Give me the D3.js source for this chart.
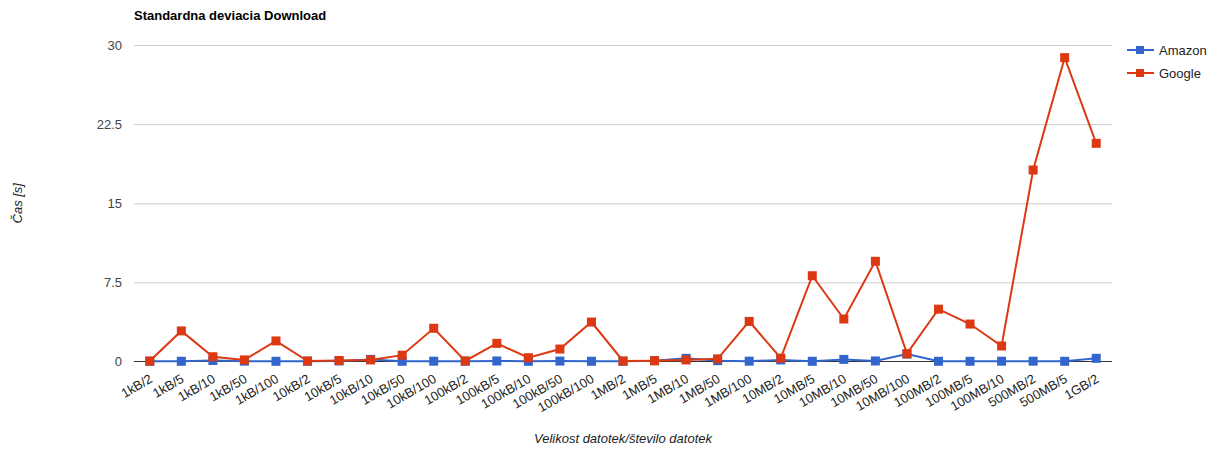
<!DOCTYPE html>
<html>
<head>
<meta charset="utf-8">
<script src="https://cdn.jsdelivr.net/npm/d3@7"></script>
<style>
  body { margin: 0; background: #fff; }
  svg { display: block; font-family: "Liberation Sans", Arial, sans-serif; }
</style>
</head>
<body>
<svg id="chart" width="1222" height="451"></svg>
<script>
// File size / number of files
const categories = [
  "1kB/2", "1kB/5", "1kB/10", "1kB/50", "1kB/100",
  "10kB/2", "10kB/5", "10kB/10", "10kB/50", "10kB/100",
  "100kB/2", "100kB/5", "100kB/10", "100kB/50", "100kB/100",
  "1MB/2", "1MB/5", "1MB/10", "1MB/50", "1MB/100",
  "10MB/2", "10MB/5", "10MB/10", "10MB/50", "10MB/100",
  "100MB/2", "100MB/5", "100MB/10", "500MB/2", "500MB/5", "1GB/2"
];

// Standard deviation of download time [s]
const amazon = [
  0.02, 0.02, 0.1, 0.03, 0.02,
  0.03, 0.05, 0.2, 0.02, 0.03,
  0.03, 0.05, 0.02, 0.04, 0.02,
  0.02, 0.08, 0.3, 0.08, 0.03,
  0.15, 0.02, 0.2, 0.05, 0.7,
  0.02, 0.02, 0.03, 0.03, 0.02, 0.3
];
const google = [
  0.05, 2.9, 0.45, 0.15, 1.95,
  0.05, 0.1, 0.15, 0.6, 3.15,
  0.05, 1.72, 0.36, 1.18, 3.74,
  0.05, 0.07, 0.15, 0.25, 3.8,
  0.32, 8.13, 4.03, 9.5, 0.74,
  4.96, 3.55, 1.47, 18.15, 28.8, 20.68
];

const yTicks = [0, 7.5, 15, 22.5, 30];

const series = [
  { name: "Amazon", values: amazon, color: "#3366cc" },
  { name: "Google", values: google, color: "#dc3912" }
];

const svg = d3.select("#chart");
const plot = { left: 134, right: 1112, top: 45, bottom: 361.5 };

const x = d3.scalePoint()
  .domain(categories)
  .range([plot.left, plot.right])
  .padding(0.5);

const y = d3.scaleLinear()
  .domain([0, 30])
  .range([plot.bottom, plot.top]);

// Title
svg.append("text")
  .attr("x", plot.left)
  .attr("y", 20)
  .attr("font-size", 13)
  .attr("font-weight", "bold")
  .attr("fill", "#000")
  .text("Standardna deviacia Download");

// Horizontal gridlines and y tick labels
const yAxis = svg.append("g")
  .attr("transform", `translate(${plot.left},0)`)
  .call(d3.axisLeft(y)
    .tickValues(yTicks)
    .tickSize(-(plot.right - plot.left))
    .tickPadding(12)
    .tickFormat(d => String(d)));
yAxis.select(".domain").remove();
yAxis.selectAll(".tick line")
  .attr("stroke", d => d === 0 ? "none" : "#cccccc")
  .attr("stroke-width", 1);
yAxis.selectAll(".tick text")
  .attr("font-size", 13)
  .attr("font-family", "Liberation Sans, Arial, sans-serif")
  .attr("fill", "#444");

// Baseline
svg.append("line")
  .attr("x1", plot.left).attr("x2", plot.right)
  .attr("y1", y(0)).attr("y2", y(0))
  .attr("stroke", "#333").attr("stroke-width", 1);

// X axis labels, slanted
const xAxis = svg.append("g")
  .attr("transform", `translate(0,${plot.bottom})`)
  .call(d3.axisBottom(x).tickSize(0).tickPadding(0));
xAxis.select(".domain").remove();
xAxis.selectAll(".tick text")
  .attr("font-size", 13)
  .attr("font-family", "Liberation Sans, Arial, sans-serif")
  .attr("fill", "#222")
  .attr("text-anchor", "end")
  .attr("dy", null)
  .attr("y", 0)
  .attr("transform", "translate(3,20) rotate(-30)");

// Axis titles
svg.append("text")
  .attr("x", (plot.left + plot.right) / 2)
  .attr("y", 443)
  .attr("text-anchor", "middle")
  .attr("font-size", 13)
  .attr("font-style", "italic")
  .attr("fill", "#222")
  .text("Velikost datotek/število datotek");

svg.append("text")
  .attr("transform", `translate(22,${(plot.top + plot.bottom) / 2}) rotate(-90)`)
  .attr("text-anchor", "middle")
  .attr("font-size", 13)
  .attr("font-style", "italic")
  .attr("fill", "#222")
  .text("Čas [s]");

// Lines and square markers
const line = d3.line()
  .x((d, i) => x(categories[i]))
  .y(d => y(d));

series.forEach(s => {
  const g = svg.append("g");
  g.append("path")
    .datum(s.values)
    .attr("fill", "none")
    .attr("stroke", s.color)
    .attr("stroke-width", 2)
    .attr("d", line);
  g.selectAll("rect")
    .data(s.values)
    .join("rect")
    .attr("x", (d, i) => x(categories[i]) - 4.5)
    .attr("y", d => y(d) - 4.5)
    .attr("width", 9)
    .attr("height", 9)
    .attr("fill", s.color);
});

// Legend
const legend = svg.append("g").attr("transform", "translate(1127,50)");
series.forEach((s, i) => {
  const row = legend.append("g").attr("transform", `translate(0,${i * 23})`);
  row.append("line")
    .attr("x1", 0).attr("x2", 27)
    .attr("y1", 0).attr("y2", 0)
    .attr("stroke", s.color).attr("stroke-width", 2);
  row.append("rect")
    .attr("x", 9).attr("y", -4).attr("width", 8).attr("height", 8)
    .attr("fill", s.color);
  row.append("text")
    .attr("x", 32).attr("y", 5)
    .attr("font-size", 13)
    .attr("fill", "#222")
    .text(s.name);
});
</script>
</body>
</html>
